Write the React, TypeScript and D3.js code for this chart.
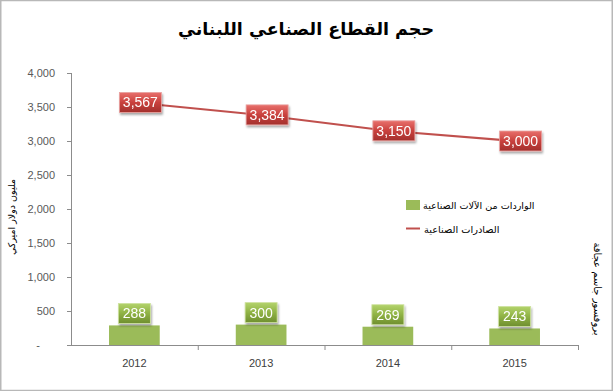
import React from "react";
import * as d3 from "d3";

// chart values
const years = ["2012", "2013", "2014", "2015"];
const exportsValues = [3567, 3384, 3150, 3000]; // الصادرات الصناعية
const importsValues = [288, 300, 269, 243]; // الواردات من الآلات الصناعية
const yTicks = [0, 500, 1000, 1500, 2000, 2500, 3000, 3500, 4000];

const titleText = "حجم القطاع الصناعي اللبناني";
const yTitle = "مليون دولار اميركي";
const sideNote = "بروفسور جاسم عجاقة";
const legendImports = "الواردات من الآلات الصناعية";
const legendExports = "الصادرات الصناعية";

const width = 613;
const height = 391;
const left = 71;
const right = 578;
const top = 73;
const bottom = 345;

const latin = "'Liberation Sans', Arial, sans-serif";
const arabic = "'DejaVu Sans', sans-serif";

function App() {
  const x = d3.scaleBand().domain(years).range([left, right]).padding(0);
  const y = d3.scaleLinear().domain([0, 4000]).range([bottom, top]);
  const fmt = d3.format(",");
  const barW = x.bandwidth() * 0.4;
  const cx = (d: string) => (x(d) as number) + x.bandwidth() / 2;

  const line = d3
    .line<number>()
    .x((_, i) => cx(years[i]))
    .y((d) => y(d));

  return (
    <svg
      width={width}
      height={height}
      style={{ position: "absolute", left: 0, top: 0, background: "#fff" }}
    >
      <defs>
        <linearGradient id="redBox" x1="0" y1="0" x2="0" y2="1">
          <stop offset="0" stopColor="#e8706c" />
          <stop offset="0.5" stopColor="#c9413d" />
          <stop offset="1" stopColor="#a3302d" />
        </linearGradient>
        <linearGradient id="greenBox" x1="0" y1="0" x2="0" y2="1">
          <stop offset="0" stopColor="#b3d36c" />
          <stop offset="0.5" stopColor="#8fb244" />
          <stop offset="1" stopColor="#6f8f2f" />
        </linearGradient>
        <filter id="shadow" x="-20%" y="-20%" width="140%" height="160%">
          <feDropShadow dx="1" dy="2" stdDeviation="1" floodColor="#000" floodOpacity="0.35" />
        </filter>
      </defs>

      {/* frame */}
      <rect x={0.75} y={0.5} width={width - 1.5} height={height - 1} fill="#fff" stroke="#b8b8b8" strokeWidth={1.5} />

      {/* title */}
      <text x={306} y={35} textAnchor="middle" fontFamily={arabic} fontWeight="bold" fontSize={17.5} fill="#000">
        {titleText}
      </text>

      {/* y axis */}
      <line x1={left + 0.5} x2={left + 0.5} y1={top} y2={bottom} stroke="#8c8c8c" />
      {yTicks.map((t) => (
        <g key={t}>
          <line x1={left - 4} x2={left} y1={Math.round(y(t)) + 0.5} y2={Math.round(y(t)) + 0.5} stroke="#8c8c8c" />
          <text
            x={t === 0 ? 40 : 55}
            y={y(t) + 4}
            textAnchor="end"
            fontFamily={latin}
            fontSize={11}
            fill="#595959"
          >
            {t === 0 ? "-" : fmt(t)}
          </text>
        </g>
      ))}

      {/* x axis */}
      <line x1={left} x2={right} y1={bottom + 0.5} y2={bottom + 0.5} stroke="#8c8c8c" />
      {years.map((d) => (
        <g key={d}>
          <line
            x1={(x(d) as number) + x.bandwidth() + 0.5}
            x2={(x(d) as number) + x.bandwidth() + 0.5}
            y1={bottom}
            y2={bottom + 5}
            stroke="#8c8c8c"
          />
          <text x={cx(d)} y={367} textAnchor="middle" fontFamily={latin} fontSize={11} fill="#404040">
            {d}
          </text>
        </g>
      ))}

      {/* import bars */}
      {importsValues.map((v, i) => (
        <rect key={i} x={cx(years[i]) - barW / 2} y={y(v)} width={barW} height={bottom - y(v)} fill="#9bbb59" />
      ))}

      {/* export line */}
      <path d={line(exportsValues) || ""} fill="none" stroke="#c0504d" strokeWidth={2} />

      {/* export labels */}
      {exportsValues.map((v, i) => {
        const lx = cx(years[i]) + 6;
        const ly = y(v);
        return (
          <g key={i} filter="url(#shadow)">
            <rect x={lx - 21} y={ly - 10} width={42} height={20} fill="url(#redBox)" stroke="#e9a3a1" strokeWidth={0.8} />
            <text x={lx} y={ly + 5} textAnchor="middle" fontFamily={latin} fontSize={14} fill="#fff">
              {fmt(v)}
            </text>
          </g>
        );
      })}

      {/* import labels */}
      {importsValues.map((v, i) => {
        const lx = cx(years[i]);
        const by = y(v) - 2;
        return (
          <g key={i} filter="url(#shadow)">
            <rect x={lx - 16} y={by - 20} width={32} height={20} fill="url(#greenBox)" stroke="#cfe3a0" strokeWidth={0.8} />
            <text x={lx} y={by - 5} textAnchor="middle" fontFamily={latin} fontSize={14} fill="#fff">
              {v}
            </text>
          </g>
        );
      })}

      {/* legend */}
      <rect x={406} y={200} width={14} height={10} fill="#9bbb59" />
      <text x={423} y={209} fontFamily={arabic} fontSize={9.6} fill="#000" direction="rtl" textAnchor="end">
        {legendImports}
      </text>
      <line x1={406} x2={420} y1={228.5} y2={228.5} stroke="#c0504d" strokeWidth={2} />
      <text x={424} y={233} fontFamily={arabic} fontSize={9.8} fill="#000" direction="rtl" textAnchor="end">
        {legendExports}
      </text>

      {/* axis title */}
      <text
        transform="translate(15,217) rotate(-90)"
        textAnchor="middle"
        fontFamily={arabic}
        fontSize={9.5}
        fill="#000"
      >
        {yTitle}
      </text>

      {/* side note */}
      <text
        transform="translate(594,289) rotate(90)"
        textAnchor="middle"
        fontFamily={arabic}
        fontSize={10}
        fill="#000"
      >
        {sideNote}
      </text>
    </svg>
  );
}

export default App;
